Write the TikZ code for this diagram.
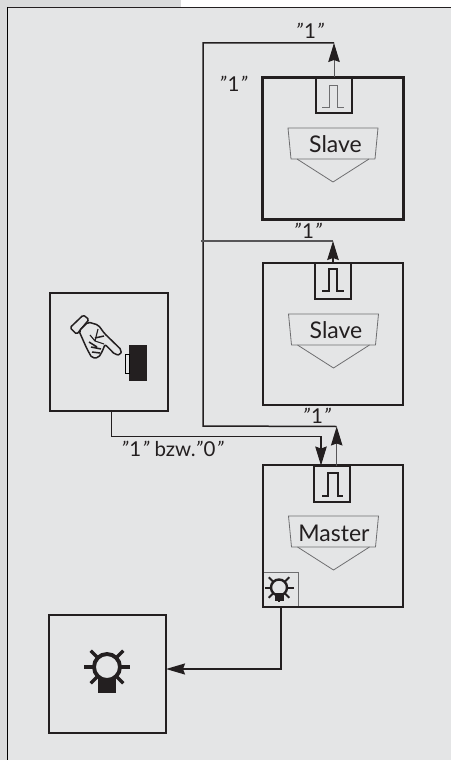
\documentclass[tikz,border=0pt]{standalone}
\usepackage{fontspec}
\setmainfont{Lato}
\usetikzlibrary{arrows.meta,calc}
\definecolor{panel}{HTML}{E4E5E6}
\definecolor{strip}{HTML}{DADBDC}
\definecolor{ink}{HTML}{231F20}
\definecolor{thin}{HTML}{6E6E70}
\newcommand{\qt}[1]{{\itshape"}\kern1pt#1\kern1pt{\itshape"}}
\tikzset{
  x=1pt,y=-1pt,
  unit/.style={draw=ink,line width=2.2pt,minimum width=#1,minimum height=#1,inner sep=0pt,outer sep=0pt},
  pulsebox/.style={draw=ink,line width=2pt,minimum width=36,minimum height=36,inner sep=0pt,outer sep=0pt},
  conn/.style={draw=ink,line width=1.5pt},
  thinconn/.style={draw=thin!70!ink,line width=1pt},
  tip/.style={-{Stealth[length=19pt,width=11.5pt,inset=2pt,color=ink]}},
  sig/.style={font=\fontsize{20.5}{22}\selectfont,text=ink,inner sep=0pt},
  role/.style={font=\fontsize{23}{25}\selectfont,text=ink,inner sep=0pt},
  badge/.style={draw=thin,line width=.8pt,line join=round},
  pulseline/.style={draw=ink,line join=miter},
}
\newcommand{\badgeshape}[2]{% centre x, top y
  \draw[badge] (#1-45,#2) -- (#1+45,#2) -- (#1+42,#2+31) -- (#1-42,#2+31) -- cycle;
  \draw[badge] (#1-36,#2+31) -- (#1,#2+54) -- (#1+36,#2+31);
}
\newcommand{\pulseglyph}[5]{% left x, base y, top y, half-rise offset, style
  \draw[pulseline,#5] (#1,#2) -- (#1+7,#2) -- (#1+7,#3) -- (#1+#4,#3) -- (#1+#4,#2) -- (#1+22,#2);
}
\newcommand{\lampglyph}[4]{% cx, cy, r, ray outer
  \foreach \a in {0,45,135,180,225,315,90}{
    \draw[draw=ink,line width=#3*0.25pt] ($(#1,#2)+(\a:#3)$) -- ($(#1,#2)+(\a:#4)$);
  }
  \draw[draw=ink,line width=#3*0.3pt,fill=panel] (#1,#2) circle[radius=#3];
}
\begin{document}
\begin{tikzpicture}
\useasboundingbox (0,0) rectangle (451,760);
\fill[white] (0,0) rectangle (451,760);
\fill[strip] (0,0) rectangle (181,7);
\fill[strip] (0,0) rectangle (7,760);
\fill[panel] (7.5,7.5) rectangle (451,760);
\draw[ink,line width=1pt] (7,7.5) -- (451,7.5);
\draw[thin,line width=1.2pt] (7.6,7) -- (7.6,760);

% small lamp box sits under the master frame
\node[draw=thin,line width=.8pt,minimum width=35,minimum height=35,inner sep=0pt,outer sep=0pt] (lb) at (280.5,589.5) {};

% units
\node[unit=141,line width=3pt,minimum height=142] (s1) at (332.5,148) {};
\node[unit=140,minimum height=142] (s2) at (333,334) {};
\node[unit=140,line width=2.6pt,minimum height=142] (m) at (333,536) {};
\node[unit=118] (sw) at (109,352) {};
\node[unit=117,minimum height=118] (lp) at (107.5,674) {};

% pulse boxes
\node[pulsebox] (p1) at (334,95) {};
\node[pulsebox] (p2) at (332.5,281) {};
\node[pulsebox] (p3) at (332,483.5) {};

% pulse glyphs
\pulseglyph{322}{107}{85}{15}{draw=thin,line width=.9pt}
\pulseglyph{322}{291}{269}{15}{line width=1.6pt}
\draw[pulseline,line width=2.2pt] (322,496) -- (328,496) -- (328,473) -- (338,473) -- (338,496) -- (343,496);

% badges and names
\badgeshape{333}{128}
\badgeshape{333.5}{314}
\badgeshape{333.5}{516}
\node[role] (n1) at (335.5,144) {Slave};
\node[role] (n2) at (336,330) {Slave};
\node[role] (n3) at (334,533) {Master};

% lamps
\lampglyph{107}{667}{13}{23}
\fill[ink] (98,678) rectangle (115.5,693);
\lampglyph{279}{587.5}{8}{14.5}
\fill[ink] (275,593) rectangle (283.5,601);

% switch button
\fill[ink] (129,345) rectangle (147,381);
\draw[thin,line width=1pt,fill=panel] (125,354) rectangle (129,373);

% hand
\draw[ink,line width=1.5pt,fill=panel,line join=round,rounded corners=1.5pt]
  (70,327.7) -- (83.3,315) -- (89,319.5) -- (76.7,334.3) -- cycle;
\draw[ink,line width=1.5pt,fill=panel,line join=round,rounded corners=2pt]
  (79,331) -- (88,322) -- (98.3,325) -- (104.3,333.3) -- (121.5,350) -- (120.5,355) -- (115,354.5) -- (105,344.3)
  -- (102.5,351) -- (98.5,357.7) -- (92,358) -- (87,349) -- cycle;
\draw[ink,line width=1.1pt] (90,335) -- (95,341) (98,329) -- (95,341) -- (104,344);
\draw[ink,line width=1.5pt] (89,342) -- (97,347) (91,347) -- (101,349) (92,352) -- (100,353) (95,338) -- (104,336);

% connectors
\coordinate (t1) at ($(p1.north)+(0,-34)$);
\coordinate (t2) at ($(p2.north)+(.5,-22)$);
\coordinate (c1) at (203,43);
\coordinate (c2) at (203,426);
\coordinate (c3) at (201,241);
\coordinate (t3) at ($(p3.north)+(4.7,-39)$);
\coordinate (j1) at ($(sw.south)+(2.7,0)$);
\coordinate (j2) at ($(p3.north)+(-11,0)$);
\draw[thinconn,tip] (p1.north) -- (t1);
\draw[conn] (t1) -- (c1) -- (c2) -- (t3);
\draw[thinconn,line width=1.1pt] (c3) -- (t2);
\draw[conn,tip] ($(p2.north)+(.5,0)$) -- (t2);
\draw[thinconn,tip] ($(p3.north)+(4.7,0)$) -- (t3);
\draw[conn,tip,line width=1.3pt] (j1) |- ($(j2)+(0,-29)$) -- (j2);
\draw[conn,line width=1.6pt,-{Stealth[length=19pt,width=11pt,inset=2pt]}] (m.south -| 281,607) |- (lp.east |- 0,669);

% labels
\node[sig] (l1) at (310,31) {\qt{1}};
\node[sig] (l2) at (233.5,84) {\qt{1}};
\node[sig] (l3) at (308,230.5) {\qt{1}};
\node[sig] (l4) at (317,416) {\qt{1}};
\node[sig] (l5) at (172.5,449) {\qt{1} bzw.\qt{0}};
\end{tikzpicture}
\end{document}
